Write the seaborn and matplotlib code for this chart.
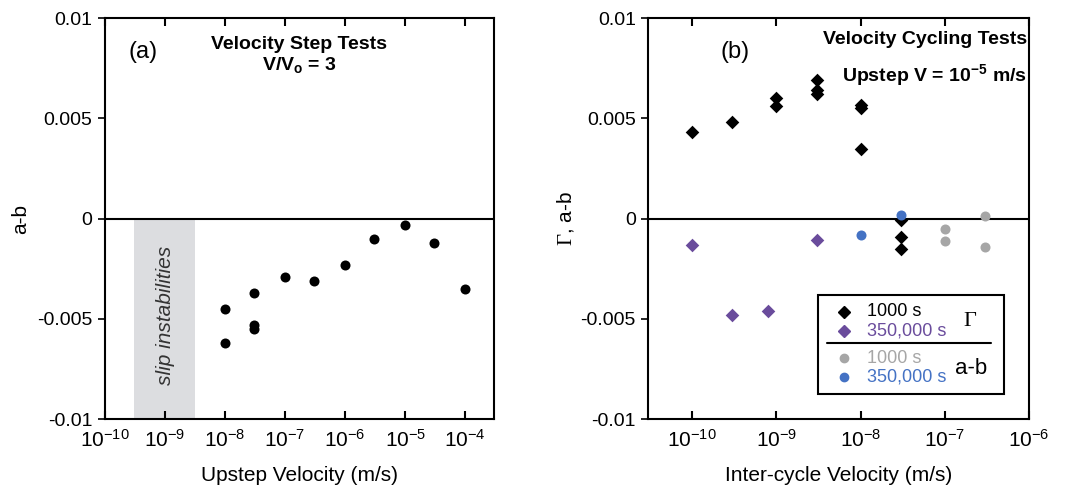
import matplotlib
matplotlib.use("Agg")
import matplotlib.pyplot as plt
import seaborn as sns
from matplotlib.lines import Line2D
from matplotlib.patches import Rectangle

# data
step_v = [1e-8, 1e-8, 3e-8, 3e-8, 3e-8, 1e-7, 3e-7, 1e-6, 3e-6, 1e-5, 3e-5, 1e-4]
step_ab = [-0.0045, -0.0062, -0.0037, -0.0053, -0.0055, -0.0029, -0.0031,
           -0.0023, -0.0010, -0.0003, -0.0012, -0.0035]

gamma_1000_v = [1e-10, 3e-10, 1e-9, 1e-9, 3e-9, 3e-9, 3e-9, 1e-8, 1e-8, 1e-8, 3e-8, 3e-8, 3e-8]
gamma_1000 = [0.0043, 0.0048, 0.0060, 0.0056, 0.0069, 0.0064, 0.0062,
              0.00565, 0.0055, 0.00345, -0.00005, -0.0009, -0.0015]

gamma_350k_v = [1e-10, 3e-10, 8e-10, 3e-9]
gamma_350k = [-0.0013, -0.0048, -0.0046, -0.00105]

ab_1000_v = [1e-7, 1e-7, 3e-7, 3e-7]
ab_1000 = [-0.0005, -0.0011, 0.00015, -0.0014]

ab_350k_v = [1e-8, 3e-8]
ab_350k = [-0.0008, 0.0002]

yticks = [-0.01, -0.005, 0, 0.005, 0.01]
ytick_labels = ["-0.01", "-0.005", "0", "0.005", "0.01"]

BLACK = "#000000"
PURPLE = "#6a4c9c"
GRAY = "#a6a6a6"
BLUE = "#4472c4"

sns.set_style("white")
plt.rcParams["font.family"] = ["Liberation Sans", "DejaVu Sans"]
plt.rcParams["mathtext.fontset"] = "custom"
plt.rcParams["mathtext.rm"] = "Liberation Sans"
plt.rcParams["mathtext.bf"] = "Liberation Sans:bold"
plt.rcParams["mathtext.sf"] = "Liberation Serif"
plt.rcParams["axes.linewidth"] = 1.5
for k in ["text.color", "axes.labelcolor", "xtick.color", "ytick.color"]:
    plt.rcParams[k] = "black"

fig = plt.figure(figsize=(10.89, 4.93), dpi=100)
ax1 = fig.add_axes([0.0964, 0.150, 0.3572, 0.8134])
ax2 = fig.add_axes([0.5953, 0.150, 0.3496, 0.8134])


def style_axis(ax, xlim, xticks):
    ax.set_xscale("log")
    ax.set_xlim(*xlim)
    ax.set_ylim(-0.01, 0.01)
    ax.set_xticks(xticks)
    ax.minorticks_off()
    ax.set_yticks(yticks)
    ax.set_yticklabels(ytick_labels)
    ax.tick_params(axis="x", which="major", direction="in", top=True, bottom=True,
                   length=6, width=1.5, pad=7, labelsize=15)
    ax.tick_params(axis="y", which="major", direction="out", left=True, right=False,
                   length=5, width=1.2, pad=4, labelsize=14)
    for s in ax.spines.values():
        s.set_color("black")
        s.set_linewidth(1.5)
    ax.axhline(0, color="black", lw=1.5, zorder=1)


# ---- panel (a)
ax1.axvspan(3e-10, 3.2e-9, ymin=0, ymax=0.5, color="#dcdde0", lw=0, zorder=0)
sns.scatterplot(x=step_v, y=step_ab, ax=ax1, color=BLACK, s=52, linewidth=0, zorder=3)
style_axis(ax1, (1e-10, 3e-4), [1e-10, 1e-9, 1e-8, 1e-7, 1e-6, 1e-5, 1e-4])
ax1.text(1e-9, -0.00485, "slip instabilities", rotation=90, style="italic",
         fontsize=15, color="#333333", ha="center", va="center")
ax1.text(0.06, 0.915, "(a)", transform=ax1.transAxes, fontsize=17, va="center")
ax1.text(0.5, 0.935, "Velocity Step Tests", transform=ax1.transAxes, fontsize=14,
         fontweight="bold", ha="center", va="center")
ax1.text(0.5, 0.88, r"V/V$_\mathbf{o}$ = 3", transform=ax1.transAxes, fontsize=14,
         fontweight="bold", ha="center", va="center")
ax1.set_xlabel("Upstep Velocity (m/s)", fontsize=15, labelpad=11)
ax1.set_ylabel("a-b", fontsize=15, labelpad=5)

# ---- panel (b)
sns.scatterplot(x=gamma_1000_v, y=gamma_1000, ax=ax2, color=BLACK, marker="D",
                s=48, linewidth=0, zorder=3)
sns.scatterplot(x=gamma_350k_v, y=gamma_350k, ax=ax2, color=PURPLE, marker="D",
                s=48, linewidth=0, zorder=3)
sns.scatterplot(x=ab_1000_v, y=ab_1000, ax=ax2, color=GRAY, s=52, linewidth=0, zorder=4)
sns.scatterplot(x=ab_350k_v, y=ab_350k, ax=ax2, color=BLUE, s=52, linewidth=0, zorder=4)
style_axis(ax2, (3e-11, 1e-6), [1e-10, 1e-9, 1e-8, 1e-7, 1e-6])
ax2.text(0.19, 0.915, "(b)", transform=ax2.transAxes, fontsize=17, va="center")
ax2.text(0.995, 0.947, "Velocity Cycling Tests", transform=ax2.transAxes, fontsize=14,
         fontweight="bold", ha="right", va="center")
ax2.text(0.995, 0.858, r"Upstep V = $\mathbf{10^{-5}}$ m/s", transform=ax2.transAxes,
         fontsize=14, fontweight="bold", ha="right", va="center")
ax2.set_xlabel("Inter-cycle Velocity (m/s)", fontsize=15, labelpad=11)
ax2.set_ylabel(r"$\mathsf{\Gamma}$, a-b", fontsize=15, labelpad=3)

# hand-built legend box
tr = ax2.transAxes
ax2.add_patch(Rectangle((0.445, 0.062), 0.489, 0.247, transform=tr, fill=False,
                        edgecolor="black", lw=1.5, zorder=5))
ax2.add_line(Line2D([0.469, 0.899], [0.189, 0.189], transform=tr, color="black", lw=1.5))
rows = [(0.268, "D", BLACK, "1000 s"), (0.220, "D", PURPLE, "350,000 s"),
        (0.151, "o", GRAY, "1000 s"), (0.104, "o", BLUE, "350,000 s")]
for yy, mk, col, lab in rows:
    ax2.add_line(Line2D([0.514], [yy], transform=tr, marker=mk, color=col,
                        markersize=6, linestyle="none"))
    ax2.text(0.574, yy, lab, transform=tr, color=col, fontsize=13, va="center")
ax2.text(0.845, 0.245, r"$\mathsf{\Gamma}$", transform=tr, fontsize=16, ha="center", va="center")
ax2.text(0.848, 0.125, "a-b", transform=tr, fontsize=16, ha="center", va="center")

fig.savefig("out.png", dpi=100)
